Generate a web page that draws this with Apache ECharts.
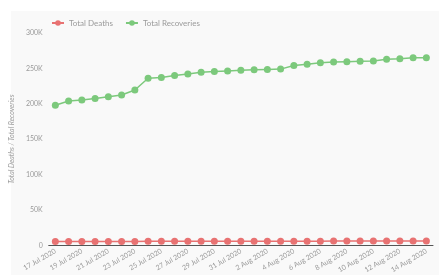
<!DOCTYPE html>
<html>
<head>
<meta charset="utf-8">
<script src="https://cdn.jsdelivr.net/npm/echarts@6/dist/echarts.min.js"></script>
<style>
  html, body { margin: 0; padding: 0; background: #fff; }
  #wrap { position: absolute; left: 11px; top: 11px; right: 0; bottom: 0; background: #f9f9f9; }
  #chart { width: 439px; height: 275px; position: absolute; left: 0; top: 0; }
</style>
</head>
<body>
<div id="wrap"></div>
<div id="chart"></div>
<script>
const dates = [
  '17 Jul 2020', '18 Jul 2020', '19 Jul 2020', '20 Jul 2020', '21 Jul 2020', '22 Jul 2020',
  '23 Jul 2020', '24 Jul 2020', '25 Jul 2020', '26 Jul 2020', '27 Jul 2020', '28 Jul 2020',
  '29 Jul 2020', '30 Jul 2020', '31 Jul 2020', '1 Aug 2020', '2 Aug 2020', '3 Aug 2020',
  '4 Aug 2020', '5 Aug 2020', '6 Aug 2020', '7 Aug 2020', '8 Aug 2020', '9 Aug 2020',
  '10 Aug 2020', '11 Aug 2020', '12 Aug 2020', '13 Aug 2020', '14 Aug 2020',
];

const totalDeaths = [
  5426, 5475, 5522, 5568, 5599, 5639, 5677, 5709, 5742, 5763, 5787, 5822,
  5842, 5865, 5892, 5924, 5951, 5965, 5984, 6014, 6035, 6068, 6082, 6097,
  6112, 6129, 6153, 6162, 6175,
];

const totalRecoveries = [
  198000, 204000, 205500, 207500, 210000, 212500, 219500, 236000, 237000, 240000,
  242000, 244500, 245500, 246500, 247500, 248000, 248500, 249000, 254000, 256000,
  258000, 259000, 259500, 260000, 260500, 263000, 263500, 265000, 265000,
];

const yTicks = [0, 50000, 100000, 150000, 200000, 250000, 300000];

const FONT = 'Lato';
const TEXT = '#9a9a9a';

const chart = echarts.init(document.getElementById('chart'));

chart.setOption({
  backgroundColor: 'transparent',
  animation: false,
  textStyle: { fontFamily: FONT, color: TEXT },
  legend: {
    top: 14,
    left: 46,
    itemWidth: 12,
    itemHeight: 7,
    itemGap: 12,
    textStyle: { fontFamily: FONT, fontSize: 8, color: TEXT },
    data: ['Total Deaths', 'Total Recoveries'],
  },
  grid: { left: 48, right: 6, top: 33, bottom: 27 },
  xAxis: {
    type: 'category',
    data: dates,
    boundaryGap: true,
    axisLine: { lineStyle: { color: '#555', width: 1 } },
    axisTick: { show: false },
    axisLabel: {
      interval: 1,
      rotate: 30,
      fontSize: 7,
      color: TEXT,
      fontFamily: FONT,
      margin: 5,
    },
  },
  yAxis: {
    type: 'value',
    min: 0,
    max: yTicks[yTicks.length - 1],
    interval: 50000,
    name: 'Total Deaths / Total Recoveries',
    nameLocation: 'middle',
    nameGap: 27,
    nameTextStyle: { fontSize: 7, fontStyle: 'italic', color: TEXT, fontFamily: FONT },
    axisLine: { show: false },
    axisTick: { show: false },
    splitLine: { show: false },
    axisLabel: {
      fontSize: 7,
      color: TEXT,
      fontFamily: FONT,
      margin: 6,
      formatter: (v) => (v === 0 ? '0' : `${v / 1000}K`),
    },
  },
  series: [
    {
      name: 'Total Deaths',
      type: 'line',
      data: totalDeaths,
      symbol: 'circle',
      symbolSize: 7,
      itemStyle: { color: '#e87272' },
      lineStyle: { width: 1.5, color: '#e87272' },
    },
    {
      name: 'Total Recoveries',
      type: 'line',
      data: totalRecoveries,
      symbol: 'circle',
      symbolSize: 7,
      itemStyle: { color: '#7cc97c' },
      lineStyle: { width: 1.5, color: '#7cc97c' },
    },
  ],
});
</script>
</body>
</html>
